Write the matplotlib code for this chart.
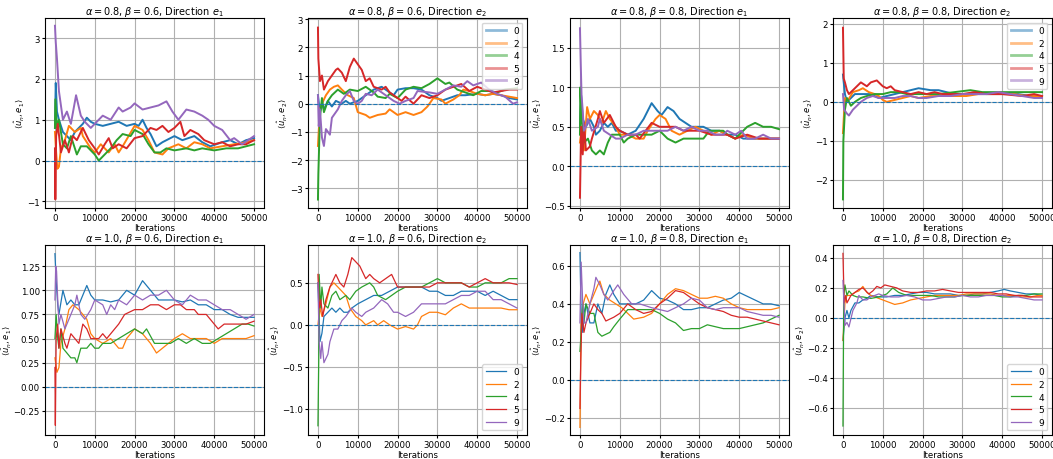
import matplotlib
matplotlib.use("Agg")
import matplotlib.pyplot as plt

# ---------------- data (x in thousands of iterations, y value) ----------------
LABELS = ["0", "2", "4", "5", "9"]
COLORS = ["tab:blue", "tab:orange", "tab:green", "tab:red", "tab:purple"]

TITLES = [
    r"$\alpha = 0.8$, $\beta = 0.6$, Direction $e_1$",
    r"$\alpha = 0.8$, $\beta = 0.6$, Direction $e_2$",
    r"$\alpha = 0.8$, $\beta = 0.8$, Direction $e_1$",
    r"$\alpha = 0.8$, $\beta = 0.8$, Direction $e_2$",
    r"$\alpha = 1.0$, $\beta = 0.6$, Direction $e_1$",
    r"$\alpha = 1.0$, $\beta = 0.6$, Direction $e_2$",
    r"$\alpha = 1.0$, $\beta = 0.8$, Direction $e_1$",
    r"$\alpha = 1.0$, $\beta = 0.8$, Direction $e_2$",
]
YLABELS = [r"$\langle \hat{u}_n, e_1 \rangle$", r"$\langle \hat{u}_n, e_2 \rangle$"] * 4
YLIMS = [(-1.16, 3.49), (-3.7, 3.04), (-0.53, 1.88), (-2.72, 2.15),
         (-0.5, 1.47), (-1.31, 0.95), (-0.29, 0.71), (-0.78, 0.486)]
YTICKS = [[-1, 0, 1, 2, 3], [-3, -2, -1, 0, 1, 2, 3], [-0.5, 0.0, 0.5, 1.0, 1.5],
          [-2, -1, 0, 1, 2], [-0.25, 0.0, 0.25, 0.5, 0.75, 1.0, 1.25],
          [-1.0, -0.5, 0.0, 0.5], [-0.2, 0.0, 0.2, 0.4, 0.6],
          [-0.6, -0.4, -0.2, 0.0, 0.2, 0.4]]
XTICKS = [0, 10000, 20000, 30000, 40000, 50000]

# Panel 1: a=0.8 b=0.6 e1
p1_0 = [(0,0.8),(0.2,1.9),(0.5,1.2),(1,1.0),(2,0.7),(3,0.6),(4,0.5),(5,0.7),(6,0.8),(7,0.9),(8,1.05),(9,0.95),(10,0.9),(12,0.85),(14,0.9),(16,0.95),(18,0.85),(20,0.9),(21,0.85),(22,1.0),(23,0.8),(24,0.65),(25.5,0.35),(27,0.45),(29,0.55),(30,0.6),(32,0.5),(35,0.6),(37,0.45),(39,0.35),(42,0.45),(44,0.5),(46,0.4),(48,0.5),(50,0.55)]
p1_2 = [(0,0.7),(0.3,0.2),(0.6,-0.2),(1,-0.15),(1.5,0.3),(2.5,0.5),(3.5,0.85),(5,0.7),(6.5,0.8),(7,0.6),(9,0.3),(10,0.2),(11.5,0.4),(13.5,0.2),(15,0.4),(16,0.2),(17,0.35),(18.5,0.6),(20,0.85),(22,0.75),(23.5,0.5),(25,0.2),(27,0.15),(28.5,0.3),(31,0.4),(33,0.3),(35,0.45),(37,0.4),(39,0.3),(42,0.35),(45,0.4),(48,0.45),(50,0.5)]
p1_4 = [(0,0.8),(0.1,1.5),(0.5,0.8),(1,1.0),(2,0.4),(3,0.3),(4,0.6),(5.5,0.15),(6.5,0.35),(8,0.35),(10,0.15),(11,0.0),(12.5,0.15),(14,0.3),(15.5,0.5),(17,0.65),(19,0.6),(20,0.75),(22,0.65),(23.5,0.4),(25,0.2),(26.5,0.2),(28,0.3),(30,0.25),(33,0.3),(35,0.25),(37,0.3),(40,0.25),(43,0.3),(46,0.3),(48,0.35),(50,0.4)]
p1_5 = [(0,0.3),(0.1,-0.95),(0.3,0.6),(0.7,0.9),(1.5,0.2),(2.5,0.5),(3.5,0.2),(4.5,0.6),(5.5,0.5),(7,0.8),(8.5,0.5),(10,0.3),(11,0.15),(12.5,0.4),(13.5,0.55),(14.5,0.3),(16,0.4),(18,0.3),(20,0.55),(22,0.6),(24,0.8),(25.5,0.75),(27,0.85),(28.5,0.7),(30,0.8),(31.5,0.95),(32.5,0.6),(34,0.75),(36,0.65),(37.5,0.5),(40,0.4),(42,0.45),(44,0.35),(46,0.4),(48,0.4),(50,0.5)]
p1_9 = [(0,3.3),(0.2,2.9),(0.5,2.5),(1,1.7),(2,1.0),(3,1.2),(4,0.9),(5.3,1.6),(6.5,1.1),(7.5,0.95),(9,0.8),(10,0.9),(12,1.1),(14,1.0),(16,1.3),(17,1.2),(19,1.3),(20,1.4),(22,1.25),(24,1.3),(26,1.35),(28,1.45),(29.5,1.2),(31,1.0),(33,1.25),(35,1.2),(37,1.1),(38.5,1.0),(40,0.85),(42,0.75),(44,0.5),(45,0.55),(47,0.4),(48.5,0.5),(50,0.6)]

# Panel 2: a=0.8 b=0.6 e2
p2_0 = [(0,0.3),(0.5,-0.3),(1,0.0),(1.5,-0.2),(2.5,0.1),(3.5,-0.1),(4.5,0.1),(6,0.0),(7,0.1),(8,0.0),(10,0.1),(11,0.2),(12,0.3),(14,0.5),(16,0.6),(18,0.4),(19,0.3),(20,0.5),(22,0.55),(24,0.55),(26,0.5),(28,0.3),(30,0.2),(31,0.1),(33,0.2),(35,0.3),(37,0.3),(40,0.35),(42,0.3),(44,0.35),(46,0.3),(48,0.2),(50,0.15)]
p2_2 = [(0,-1.5),(0.5,-0.2),(1,0.0),(2,0.3),(3,0.5),(4,0.6),(5,0.65),(6,0.5),(7.5,0.3),(9,0.2),(10,-0.3),(12,-0.4),(13,-0.5),(15,-0.4),(17,-0.35),(18,-0.2),(20,-0.4),(22,-0.3),(24,-0.4),(26,-0.3),(27.5,-0.1),(29,0.2),(31,0.15),(32,0.0),(34,0.15),(35.5,0.3),(36.5,0.5),(38,0.45),(40,0.35),(42,0.3),(44,0.35),(46,0.3),(48,0.25),(50,0.2)]
p2_4 = [(0,-3.4),(0.1,-2.5),(0.5,-0.5),(1,0.2),(1.5,-0.3),(2.5,0.1),(3.5,0.3),(5,0.5),(6.5,0.35),(8,0.5),(10,0.45),(12,0.6),(14,0.4),(15,0.25),(17,0.2),(18,0.35),(20,0.2),(22,0.5),(24,0.6),(26,0.55),(28,0.7),(30,0.9),(32,0.7),(33,0.75),(35,0.5),(37,0.4),(39,0.3),(41,0.45),(43,0.45),(45,0.4),(47,0.5),(50,0.55)]
p2_5 = [(0,2.7),(0.1,1.6),(0.5,0.8),(1,1.0),(1.5,0.5),(2.5,0.8),(3.5,1.0),(4.5,1.2),(5,1.25),(6,1.1),(7,0.8),(8,1.3),(9,1.6),(10,1.4),(11,1.2),(12,0.8),(13,0.9),(14,0.6),(16,0.5),(17,0.6),(18,0.4),(20,0.2),(21,0.1),(22,0.25),(24,0.0),(26,0.3),(28,0.2),(30,0.3),(32,0.5),(34,0.6),(36,0.7),(38,0.45),(40,0.6),(42,0.5),(44,0.4),(46,0.45),(48,0.5),(50,0.5)]
p2_9 = [(0,0.3),(0.2,-0.8),(0.5,-0.2),(1,-1.2),(1.5,-1.5),(2,-0.9),(3,-1.1),(3.5,-0.5),(5,-0.2),(6,0.1),(7,0.3),(8,0.45),(9,0.1),(10,0.0),(11,0.1),(12,0.35),(13.5,0.3),(15,0.5),(17,0.3),(19,0.1),(20.5,0.0),(22,0.1),(24,0.2),(25,0.45),(28,0.4),(30,0.35),(32,0.5),(34,0.65),(36,0.6),(37.5,0.8),(39,0.65),(41,0.75),(43,0.5),(45,0.35),(47,0.25),(49,0.0),(50,0.05)]

# Panel 3: a=0.8 b=0.8 e1
p3_0 = [(0,0.5),(0.3,0.9),(0.7,0.6),(1.5,0.5),(2.5,0.6),(3.5,0.5),(4,0.4),(5,0.45),(6,0.55),(7,0.5),(8,0.55),(9,0.45),(10,0.45),(12,0.4),(14,0.45),(16,0.6),(18,0.8),(19.5,0.7),(20.5,0.65),(22,0.75),(23.5,0.7),(25,0.6),(26.5,0.55),(28,0.5),(30,0.5),(31,0.5),(33,0.45),(35,0.45),(37,0.4),(39,0.4),(41,0.35),(43,0.35),(45,0.35),(47,0.35),(50,0.35)]
p3_2 = [(0,0.3),(0.5,0.5),(1,0.2),(1.8,0.75),(2.5,0.6),(3.5,0.7),(4.5,0.65),(5.5,0.55),(6.5,0.7),(7.5,0.6),(9,0.5),(10,0.4),(12,0.4),(14,0.35),(16,0.35),(17,0.45),(19,0.6),(20,0.65),(21.5,0.6),(23,0.45),(25,0.4),(27,0.45),(29,0.5),(31,0.45),(33,0.4),(35,0.45),(37,0.4),(39,0.35),(41,0.4),(44,0.35),(47,0.35),(50,0.35)]
p3_4 = [(0,0.4),(0.1,1.0),(0.4,0.6),(1,0.3),(2,0.35),(3,0.2),(4,0.15),(5,0.2),(6,0.15),(7,0.3),(8,0.4),(10,0.4),(11,0.3),(12,0.35),(14,0.4),(16,0.4),(18,0.4),(20,0.45),(21,0.4),(22,0.35),(24,0.3),(26,0.35),(28,0.35),(31,0.35),(32.5,0.45),(34,0.45),(36,0.45),(37,0.4),(39,0.35),(40,0.4),(42,0.5),(44,0.55),(46,0.5),(48,0.5),(50,0.47)]
p3_5 = [(0,-0.4),(0.3,0.5),(0.7,0.15),(1,0.55),(1.5,0.2),(2.5,0.25),(3,0.35),(4.5,0.6),(5,0.7),(6,0.55),(7.5,0.65),(9,0.5),(10,0.45),(12,0.4),(14,0.4),(15,0.35),(16.5,0.45),(18,0.55),(20,0.5),(22,0.5),(24,0.5),(26,0.45),(28,0.45),(30,0.45),(33,0.4),(35,0.4),(37,0.4),(39,0.35),(42,0.4),(45,0.35),(48,0.35),(50,0.35)]
p3_9 = [(0,1.75),(0.2,1.3),(0.4,0.9),(0.7,0.7),(1,0.45),(1.5,0.5),(2,0.6),(3,0.45),(4.5,0.5),(5,0.6),(6,0.45),(7.5,0.4),(9,0.35),(10,0.35),(12,0.4),(14,0.4),(16,0.45),(18,0.45),(20,0.45),(22,0.45),(24,0.5),(26,0.45),(28,0.5),(30,0.45),(32,0.45),(34,0.4),(36,0.4),(37,0.45),(39,0.4),(40.5,0.45),(42,0.35),(44,0.35),(46,0.4),(48,0.35),(50,0.35)]

# Panel 4: a=0.8 b=0.8 e2
p4_0 = [(0,0.7),(0.5,0.2),(1,0.0),(2,0.1),(3,0.2),(5,0.2),(7,0.2),(9,0.1),(11,0.15),(13,0.2),(15,0.25),(17,0.3),(19,0.35),(22,0.3),(24,0.3),(26,0.25),(28,0.2),(30,0.2),(33,0.2),(36,0.2),(40,0.2),(44,0.2),(47,0.15),(50,0.15)]
p4_2 = [(0,-0.8),(0.5,0.1),(1,0.0),(2.5,0.25),(4,0.3),(5,0.35),(6.5,0.25),(8,0.2),(9,0.15),(10,0.05),(11,0.0),(13,0.05),(15,0.1),(17,0.15),(19,0.1),(22,0.15),(25,0.15),(28,0.15),(31,0.15),(34,0.2),(37,0.2),(40,0.2),(43,0.2),(46,0.15),(50,0.15)]
p4_4 = [(0,-2.5),(0.1,-1.0),(0.5,-0.2),(1,0.1),(2,-0.1),(3,0.0),(4.5,0.1),(6,0.15),(8,0.2),(10,0.2),(12,0.25),(14,0.25),(16,0.2),(18,0.2),(20,0.2),(24,0.2),(28,0.25),(32,0.3),(35,0.25),(38,0.25),(42,0.25),(46,0.25),(50,0.25)]
p4_5 = [(0,1.9),(0.2,0.6),(0.5,0.5),(1,0.3),(1.5,0.2),(2.5,0.3),(3.5,0.4),(4.5,0.5),(6,0.4),(7,0.5),(8.5,0.55),(10,0.4),(11,0.35),(12,0.4),(13,0.3),(15,0.25),(17,0.2),(19,0.25),(21,0.2),(23,0.25),(25,0.2),(27,0.2),(30,0.2),(33,0.25),(36,0.2),(40,0.2),(45,0.15),(48,0.2),(50,0.15)]
p4_9 = [(0,0.2),(0.3,-0.2),(1,-0.3),(1.5,-0.35),(2.5,-0.2),(3.5,-0.1),(4.5,0.0),(6,0.1),(7.5,0.15),(9,0.1),(11,0.1),(13,0.1),(15,0.15),(17,0.15),(19,0.1),(21,0.1),(24,0.15),(27,0.15),(30,0.2),(33,0.2),(36,0.2),(39,0.25),(42,0.2),(45,0.15),(48,0.1),(50,0.1)]

# Panel 5: a=1.0 b=0.6 e1
p5_0 = [(0,1.38),(0.3,1.1),(0.7,0.85),(1,0.75),(2,1.0),(3,0.85),(4,0.9),(5,0.85),(6,0.85),(7,0.95),(8,1.05),(9,0.95),(10,0.9),(12,0.9),(14,0.88),(16,0.9),(18,1.0),(20,0.95),(22,1.1),(24,1.0),(26,0.9),(28,0.9),(30,0.9),(32,0.88),(34,0.9),(36,0.85),(38,0.85),(40,0.8),(42,0.8),(44,0.75),(46,0.72),(48,0.72),(50,0.72)]
p5_2 = [(0,0.3),(0.5,0.15),(1,0.2),(1.5,0.45),(2.5,0.6),(3.5,0.8),(4.5,0.85),(6,0.8),(7,0.75),(8,0.7),(9,0.55),(10,0.5),(12,0.45),(14,0.5),(16,0.4),(17,0.4),(18,0.5),(20,0.6),(22,0.55),(24,0.45),(25.5,0.35),(27,0.4),(28.5,0.45),(30,0.5),(32,0.55),(34,0.5),(36,0.5),(38,0.5),(40,0.45),(42,0.5),(44,0.5),(46,0.5),(48,0.5),(50,0.53)]
p5_4 = [(0,0.5),(0.3,0.75),(0.7,0.5),(1,0.4),(1.5,0.6),(2,0.4),(3,0.35),(4,0.3),(5,0.3),(5.5,0.25),(6.5,0.4),(8,0.4),(9,0.45),(10,0.4),(11,0.4),(12,0.45),(14,0.45),(16,0.5),(18,0.55),(20,0.6),(22,0.55),(23,0.6),(25,0.45),(27,0.45),(29,0.45),(31,0.5),(33,0.45),(35,0.5),(37,0.45),(39,0.45),(41,0.5),(43,0.55),(45,0.6),(47,0.65),(48.5,0.65),(50,0.63)]
p5_5 = [(0,0.2),(0.1,-0.4),(0.3,0.5),(0.7,0.65),(1,0.4),(1.5,0.6),(2.5,0.45),(3,0.4),(4,0.55),(5,0.5),(6,0.45),(7,0.65),(8,0.6),(9,0.5),(10,0.5),(11,0.5),(12,0.55),(13,0.5),(14,0.55),(16,0.65),(17.5,0.75),(20,0.8),(22,0.8),(24,0.85),(26,0.85),(28,0.8),(30,0.85),(31.5,0.85),(33,0.8),(35,0.8),(36,0.75),(38,0.75),(40,0.65),(41,0.6),(42.5,0.65),(44,0.65),(46,0.65),(48,0.65),(50,0.68)]
p5_9 = [(0,0.9),(0.2,1.25),(0.4,1.2),(0.7,0.9),(1,0.65),(1.5,0.75),(2.5,0.6),(3,0.65),(4,0.75),(5,0.85),(5.5,0.95),(6.5,0.75),(7.5,0.7),(9,0.8),(10,0.9),(12,0.85),(13,0.75),(14,0.85),(15,0.8),(16,0.9),(18,0.85),(19,0.9),(20,0.95),(22,0.9),(24,0.95),(26,0.95),(28,1.0),(30,0.9),(32,0.85),(34,0.95),(36,0.9),(38,0.9),(40,0.85),(42,0.8),(44,0.8),(46,0.75),(48,0.7),(50,0.75)]

# Panel 6: a=1.0 b=0.6 e2
p6_0 = [(0,0.5),(0.5,-0.2),(1,-0.1),(1.5,0.1),(2.5,0.15),(3.5,0.2),(4.5,0.15),(5.5,0.2),(6.5,0.15),(7.5,0.15),(8.5,0.2),(10,0.25),(12,0.3),(14,0.35),(16,0.35),(18,0.4),(20,0.45),(22,0.45),(24,0.45),(26,0.45),(28,0.4),(30,0.4),(32,0.35),(34,0.35),(36,0.4),(38,0.4),(40,0.4),(42,0.35),(44,0.4),(46,0.35),(48,0.3),(50,0.3)]
p6_2 = [(0,0.0),(0.5,0.2),(1,0.1),(2,0.25),(3,0.45),(4,0.5),(5,0.45),(6,0.4),(7,0.35),(8,0.2),(9.5,0.1),(11,0.05),(12,0.0),(14,0.05),(15,0.0),(16.5,0.05),(18,0.0),(20,-0.05),(22,-0.02),(24,-0.05),(25,0.0),(26,0.1),(28,0.15),(30,0.15),(32,0.12),(34,0.2),(36,0.25),(38,0.2),(40,0.2),(42,0.2),(44,0.2),(46,0.2),(48,0.18),(50,0.18)]
p6_4 = [(0,-1.2),(0.2,-0.4),(0.3,0.6),(0.7,0.2),(1,0.45),(1.5,0.25),(2.5,0.2),(3.5,0.35),(4.5,0.4),(5.5,0.3),(7,0.35),(8,0.3),(9.5,0.4),(11,0.45),(13,0.5),(14,0.45),(15,0.35),(17,0.3),(18.5,0.35),(20,0.4),(22,0.45),(24,0.45),(26,0.45),(28,0.5),(30,0.55),(32,0.5),(34,0.5),(36,0.5),(38,0.45),(40,0.45),(42,0.5),(44,0.5),(46,0.5),(48,0.55),(50,0.55)]
p6_5 = [(0,0.6),(0.3,0.2),(0.7,0.3),(1.2,0.1),(2,0.3),(3,0.45),(4,0.55),(4.5,0.6),(5.5,0.5),(6.5,0.45),(7.5,0.6),(8.5,0.8),(9.5,0.75),(10.5,0.7),(12,0.55),(13,0.6),(14,0.55),(15.5,0.5),(17,0.55),(18.5,0.6),(20,0.45),(22,0.45),(24,0.45),(26,0.45),(28,0.45),(30,0.5),(32,0.5),(34,0.5),(36,0.5),(38,0.45),(40,0.5),(42,0.55),(44,0.5),(46,0.5),(48,0.5),(50,0.48)]
p6_9 = [(0,0.5),(0.3,-0.2),(0.7,-0.4),(1,-0.2),(1.5,-0.45),(2.5,-0.35),(3,-0.2),(4,-0.05),(5,-0.05),(6,0.05),(7,0.1),(8.5,0.2),(9.5,0.15),(11,0.1),(12,0.15),(14,0.2),(16,0.3),(17.5,0.25),(19,0.15),(20,0.15),(22,0.1),(24,0.15),(26,0.25),(28,0.25),(30,0.25),(32,0.25),(34,0.3),(36,0.35),(38,0.35),(40,0.4),(42,0.4),(44,0.3),(46,0.3),(48,0.25),(50,0.2)]

# Panel 7: a=1.0 b=0.8 e1
p7_0 = [(0,0.67),(0.3,0.35),(0.7,0.25),(1,0.35),(1.5,0.4),(2.5,0.3),(3.5,0.3),(4.5,0.4),(5.5,0.35),(6.5,0.45),(7.5,0.5),(8.5,0.45),(10,0.4),(12,0.4),(14,0.4),(16,0.42),(18,0.47),(20,0.43),(22,0.42),(24,0.4),(26,0.37),(28,0.37),(30,0.38),(32,0.38),(34,0.4),(36,0.42),(38,0.43),(40,0.46),(42,0.44),(44,0.42),(46,0.4),(48,0.4),(50,0.39)]
p7_2 = [(0,-0.25),(0.3,0.3),(0.8,0.4),(1.5,0.45),(2.5,0.4),(3.5,0.45),(4.5,0.5),(5,0.52),(6,0.45),(7.5,0.42),(9,0.4),(10.5,0.38),(12,0.35),(13.5,0.32),(16,0.33),(18,0.35),(20,0.4),(22,0.45),(24,0.48),(26,0.47),(28,0.45),(30,0.43),(32,0.43),(34,0.44),(36,0.43),(38,0.4),(40,0.38),(42,0.37),(44,0.37),(46,0.37),(48,0.37),(50,0.38)]
p7_4 = [(0,0.15),(0.3,0.25),(0.7,0.4),(1,0.3),(1.5,0.4),(2.5,0.35),(3.5,0.35),(4.5,0.25),(5.5,0.23),(6.5,0.24),(7.5,0.25),(8.5,0.28),(10,0.32),(12,0.37),(14,0.37),(16,0.37),(18,0.37),(20,0.35),(22,0.32),(24,0.3),(26,0.26),(28,0.27),(30,0.27),(32,0.29),(34,0.28),(36,0.27),(38,0.27),(40,0.27),(42,0.28),(44,0.29),(46,0.3),(48,0.32),(50,0.34)]
p7_5 = [(0,-0.15),(0.2,0.1),(0.5,0.35),(1,0.25),(1.5,0.3),(2.5,0.35),(3.5,0.4),(4.5,0.37),(5.5,0.35),(6.5,0.31),(7.5,0.32),(8.5,0.33),(10,0.35),(12,0.4),(14,0.37),(16,0.35),(18,0.36),(20,0.4),(22,0.43),(24,0.47),(26,0.46),(28,0.43),(30,0.4),(32,0.38),(34,0.37),(36,0.36),(38,0.34),(40,0.33),(42,0.33),(44,0.32),(46,0.31),(48,0.3),(50,0.29)]
p7_9 = [(0,0.3),(0.3,0.62),(0.7,0.4),(1,0.3),(1.5,0.3),(2.5,0.4),(3.5,0.48),(4,0.54),(5,0.5),(6,0.45),(7,0.42),(8.5,0.47),(9.5,0.5),(11,0.45),(13,0.4),(15,0.4),(18,0.38),(20,0.37),(22,0.36),(24,0.38),(26,0.4),(28,0.43),(30,0.42),(32,0.38),(34,0.37),(36,0.38),(38,0.38),(40,0.38),(42,0.36),(44,0.35),(46,0.34),(48,0.34),(50,0.33)]

# Panel 8: a=1.0 b=0.8 e2
p8_0 = [(0,-0.15),(0.5,0.0),(1,0.05),(1.5,0.0),(2,0.05),(3,0.1),(4,0.1),(5,0.12),(6,0.13),(7,0.15),(9,0.14),(11,0.14),(13,0.15),(15,0.15),(17,0.16),(19,0.17),(21,0.17),(23,0.16),(25,0.16),(27,0.16),(29,0.15),(31,0.15),(33,0.16),(35,0.16),(37,0.17),(39,0.18),(40.5,0.19),(42,0.18),(44,0.17),(46,0.16),(48,0.16),(50,0.15)]
p8_2 = [(0,-0.15),(0.5,0.1),(1,0.15),(2,0.15),(3,0.17),(4,0.18),(5,0.21),(6,0.17),(7,0.15),(8,0.14),(9,0.13),(10,0.12),(12,0.1),(13,0.09),(15,0.1),(17,0.12),(19,0.13),(21,0.14),(23,0.15),(25,0.15),(27,0.15),(29,0.15),(31,0.16),(33,0.16),(35,0.16),(37,0.16),(39,0.15),(41,0.15),(43,0.15),(45,0.14),(47,0.14),(49,0.15),(50,0.15)]
p8_4 = [(0,-0.72),(0.2,0.15),(0.5,0.22),(1,0.15),(1.5,0.18),(2.5,0.15),(3.5,0.14),(5,0.14),(7,0.13),(9,0.14),(11,0.16),(12.5,0.2),(14,0.17),(16,0.15),(18,0.15),(20,0.15),(22,0.15),(24,0.14),(26,0.14),(28,0.14),(30,0.15),(32,0.15),(34,0.15),(36,0.15),(38,0.15),(40,0.14),(42,0.14),(44,0.15),(46,0.15),(48,0.16),(50,0.16)]
p8_5 = [(0,0.43),(0.3,0.1),(0.7,0.15),(1,0.1),(2,0.15),(3,0.17),(4,0.19),(5,0.2),(6.5,0.16),(7.5,0.18),(8.5,0.21),(9.5,0.2),(10.5,0.22),(12,0.21),(13.5,0.2),(15,0.18),(17,0.17),(19,0.17),(21,0.18),(23,0.18),(25,0.19),(27,0.18),(29,0.17),(31,0.17),(33,0.17),(35,0.17),(37,0.17),(39,0.16),(41,0.16),(43,0.15),(45,0.15),(47,0.14),(49,0.14),(50,0.14)]
p8_9 = [(0,0.25),(0.5,-0.05),(1,-0.03),(1.5,-0.06),(2.5,0.05),(3.5,0.1),(4,0.15),(5,0.12),(6,0.12),(7,0.14),(8,0.15),(9,0.16),(10,0.15),(12,0.14),(14,0.14),(16,0.15),(18,0.14),(20,0.12),(22,0.12),(24,0.13),(26,0.14),(28,0.14),(30,0.15),(32,0.14),(34,0.14),(36,0.15),(38,0.15),(40,0.15),(42,0.14),(44,0.14),(46,0.13),(48,0.12),(50,0.12)]

PANELS = [
    [p1_0, p1_2, p1_4, p1_5, p1_9],
    [p2_0, p2_2, p2_4, p2_5, p2_9],
    [p3_0, p3_2, p3_4, p3_5, p3_9],
    [p4_0, p4_2, p4_4, p4_5, p4_9],
    [p5_0, p5_2, p5_4, p5_5, p5_9],
    [p6_0, p6_2, p6_4, p6_5, p6_9],
    [p7_0, p7_2, p7_4, p7_5, p7_9],
    [p8_0, p8_2, p8_4, p8_5, p8_9],
]
LEGEND_LOC = {1: "upper right", 3: "upper right", 5: "lower right", 7: "lower right"}

# ---------------- figure ----------------
W, H = 1053, 460
fig = plt.figure(figsize=(W / 100, H / 100), dpi=100)
lefts = [45, 308, 570, 833]
tops = [19, 246]
aw, ah = 219, 190

for i, series in enumerate(PANELS):
    r, c = divmod(i, 4)
    ax = fig.add_axes([lefts[c] / W, 1 - (tops[r] + ah) / H, aw / W, ah / H])
    lw = 1.4 if r == 0 else 0.9
    for lab, col, pts in zip(LABELS, COLORS, series):
        xs = [p[0] * 1000 for p in pts]
        ys = [p[1] for p in pts]
        ax.plot(xs, ys, color=col, lw=lw, label=lab)
    ax.axhline(0, color="tab:blue", ls="--", lw=0.8)
    ax.set_xlim(-2500, 52500)
    ax.set_ylim(*YLIMS[i])
    ax.set_xticks(XTICKS)
    ax.set_yticks(YTICKS[i])
    ax.grid(True, color="#b0b0b0", lw=0.8)
    ax.tick_params(labelsize=6.2, length=2.5, width=0.8, pad=1.2)
    ax.set_title(TITLES[i], fontsize=7, pad=3)
    ax.set_xlabel("Iterations", fontsize=6.2, labelpad=0.5)
    ax.set_ylabel(YLABELS[i], fontsize=6, labelpad=0.5)
    if i in LEGEND_LOC:
        leg = ax.legend(loc=LEGEND_LOC[i], fontsize=6.5, handlelength=2.2,
                        borderpad=0.4, labelspacing=0.4)
        if r == 0:
            for h in leg.legend_handles:
                h.set_alpha(0.5)
                h.set_linewidth(2.0)

fig.savefig("out.png", dpi=100)
